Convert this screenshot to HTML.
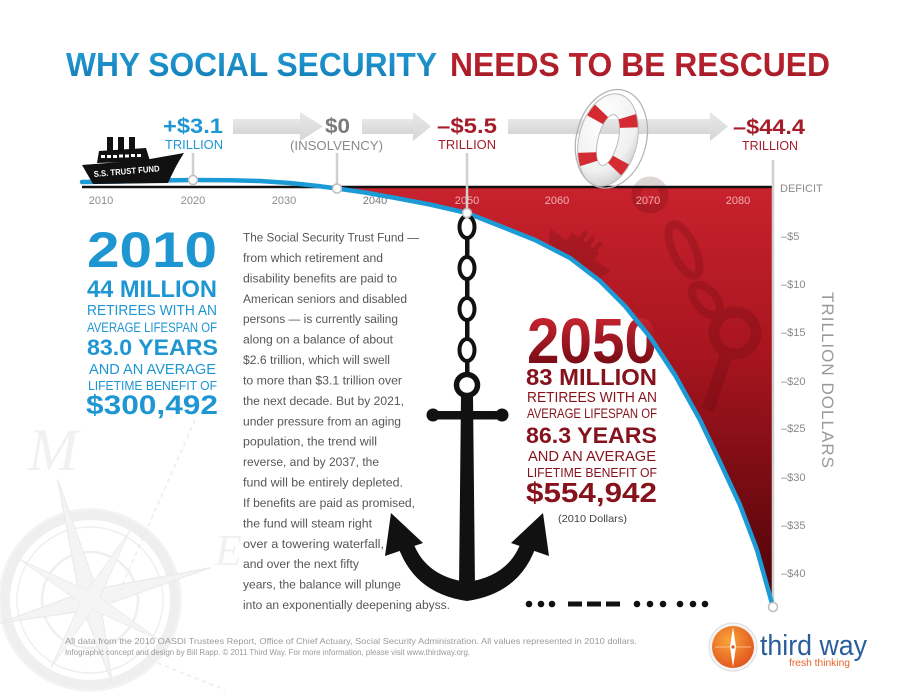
<!DOCTYPE html>
<html><head><meta charset="utf-8"><style>
html,body{margin:0;padding:0;background:#fff;width:900px;height:695px;overflow:hidden;}
svg{display:block;font-family:"Liberation Sans",sans-serif;overflow:hidden;}
</style></head><body>
<svg width="900" height="695" viewBox="0 0 900 695" xmlns="http://www.w3.org/2000/svg">
<defs>
 <linearGradient id="redfill" x1="0" y1="186" x2="0" y2="607" gradientUnits="userSpaceOnUse">
  <stop offset="0" stop-color="#c8222d"/><stop offset="0.4" stop-color="#a8151f"/><stop offset="1" stop-color="#4a0307"/>
 </linearGradient>
 <linearGradient id="arr" x1="0" y1="0" x2="0" y2="1"><stop offset="0" stop-color="#e8e8e8"/><stop offset="1" stop-color="#d6d6d6"/></linearGradient>
 <linearGradient id="t2050" x1="0" y1="318" x2="0" y2="363" gradientUnits="userSpaceOnUse"><stop offset="0" stop-color="#c4242f"/><stop offset="1" stop-color="#7a0d16"/></linearGradient>
 <linearGradient id="tblue" x1="0" y1="0" x2="0" y2="1"><stop offset="0" stop-color="#24a0da"/><stop offset="1" stop-color="#137bb5"/></linearGradient>
 <linearGradient id="tred" x1="0" y1="0" x2="0" y2="1"><stop offset="0" stop-color="#c22632"/><stop offset="1" stop-color="#a01a26"/></linearGradient>
 <radialGradient id="orange" cx="0.4" cy="0.35" r="0.7"><stop offset="0" stop-color="#f9a43a"/><stop offset="1" stop-color="#e1531c"/></radialGradient>
 <radialGradient id="ringg" cx="0.35" cy="0.3" r="0.8"><stop offset="0" stop-color="#ffffff"/><stop offset="0.7" stop-color="#f0f0f0"/><stop offset="1" stop-color="#c8c8c8"/></radialGradient>
</defs>

<!-- compass rose background -->
<g fill="none" stroke="#efefef">
 <circle cx="90" cy="600" r="85" stroke-width="10"/>
 <circle cx="90" cy="600" r="73" stroke-width="1.5"/>
 <circle cx="90" cy="600" r="48" stroke-width="2.5"/>
 <circle cx="90" cy="600" r="91" stroke-width="1.2"/>
 <polygon fill="#f4f4f4" stroke="#ebebeb" stroke-width="1.2" points="57.6,479.3 96.4,589 210.7,567.6 101,606.4 112,682.1 83.6,611 0,623 79,593.6"/>
 <polygon fill="#f5f5f5" stroke="#ececec" stroke-width="1" points="130,530.7 99.6,597.4 159.3,640 92.6,609.6 51,667.5 80.4,602.6 20.7,560 87.4,590.4"/>
</g>
<path d="M195,420 L120,590" stroke="#ebebeb" stroke-width="1.5" stroke-dasharray="4 4" fill="none"/>
<path d="M150,660 L225,690" stroke="#ebebeb" stroke-width="1.5" stroke-dasharray="4 4" fill="none"/>
<text x="28" y="470" font-family="Liberation Serif,serif" font-style="italic" font-size="60" fill="#f1f1f1">M</text>
<text x="215" y="565" font-family="Liberation Serif,serif" font-style="italic" font-size="44" fill="#f1f1f1">E</text>

<!-- title -->
<text x="66" y="76" font-size="33" font-weight="bold" fill="url(#tblue)" textLength="371" lengthAdjust="spacingAndGlyphs">WHY SOCIAL SECURITY</text>
<text x="450" y="76" font-size="33" font-weight="bold" fill="url(#tred)" textLength="380" lengthAdjust="spacingAndGlyphs">NEEDS TO BE RESCUED</text>

<!-- arrows -->
<g fill="url(#arr)">
 <rect x="233" y="119" width="68" height="15"/><polygon points="300,112 323,126.5 300,141"/>
 <rect x="362" y="119" width="52" height="15"/><polygon points="413,112 431,126.5 413,141"/>
 <rect x="508" y="119" width="203" height="15"/><polygon points="710,112 728,126.5 710,141"/>
</g>

<!-- red deficit area -->
<polygon fill="url(#redfill)" points="318,186 337,188.5 365,192.5 393,197.5 430,204.5 467,213 500,226 535,240 570,258 600,281 625,306 650,337 675,375 700,420 720,462 740,505 757,550 773,607 773,186"/>
<!-- faint decorations in red -->
<g fill="#3a0307" opacity="0.16">
 <g transform="translate(580,252) rotate(38)">
  <polygon points="-38,0 36,-4 30,10 -30,12"/>
  <rect x="-18" y="-11" width="34" height="11"/>
  <rect x="-10" y="-20" width="5" height="10"/><rect x="-1" y="-20" width="5" height="10"/><rect x="8" y="-20" width="5" height="10"/>
 </g>
</g>
<g fill="none" stroke="#3a0307" opacity="0.16">
 <circle cx="650" cy="195" r="14" stroke-width="9"/>
 <ellipse cx="684" cy="250" rx="11" ry="28" transform="rotate(-25 684 250)" stroke-width="8"/>
 <ellipse cx="706" cy="300" rx="10" ry="18" transform="rotate(-40 706 300)" stroke-width="8"/>
 <circle cx="735" cy="333" r="21" stroke-width="11"/>
 <path d="M726 356 L708 410" stroke-width="13"/>
</g>

<!-- axis line -->
<line x1="82" y1="187" x2="773" y2="187" stroke="#111" stroke-width="2.5"/>

<!-- year labels -->
<g font-size="11" text-anchor="middle">
 <text x="101" y="204" fill="#8c8c8c">2010</text>
 <text x="193" y="204" fill="#8c8c8c">2020</text>
 <text x="284" y="204" fill="#8c8c8c">2030</text>
 <text x="375" y="204" fill="#7c7c7c">2040</text>
 <text x="467" y="204" fill="#f0aeb2">2050</text>
 <text x="557" y="204" fill="#f0aeb2">2060</text>
 <text x="648" y="204" fill="#f0aeb2">2070</text>
 <text x="738" y="204" fill="#f0aeb2">2080</text>
</g>

<!-- marker lines -->
<g stroke="#d0d0d0" stroke-width="2.5">
 <line x1="193" y1="153" x2="193" y2="177"/>
 <line x1="337" y1="153" x2="337" y2="185"/>
 <line x1="467" y1="153" x2="467" y2="210"/>
 <line x1="773" y1="160" x2="773" y2="604"/>
</g>

<!-- blue curve -->
<polyline fill="none" stroke="#1c9ad6" stroke-width="4.5" stroke-linejoin="round" stroke-linecap="round" points="82,182 120,181.5 160,180.5 193,180 230,180.2 260,181 290,183 318,186 337,188.5 365,192.5 393,197.5 430,204.5 467,213 500,226 535,240 570,258 600,281 625,306 650,337 675,375 700,420 720,462 740,505 757,550 773,607"/>

<!-- right axis labels -->
<g font-size="11" fill="#8a8a8a">
 <text x="780" y="192">DEFICIT</text>
 <text x="781" y="240">–$5</text>
 <text x="781" y="288">–$10</text>
 <text x="781" y="336">–$15</text>
 <text x="781" y="385">–$20</text>
 <text x="781" y="432">–$25</text>
 <text x="781" y="481">–$30</text>
 <text x="781" y="529">–$35</text>
 <text x="781" y="577">–$40</text>
</g>
<text transform="translate(822,292) rotate(90)" x="0" y="0" font-size="17" fill="#9a9a9a" textLength="176" lengthAdjust="spacing">TRILLION DOLLARS</text>

<!-- ship -->
<g>
 <rect x="107" y="137" width="6" height="14" fill="#111"/>
 <rect x="118" y="137" width="6" height="14" fill="#111"/>
 <rect x="129" y="137" width="6" height="14" fill="#111"/>
 <polygon points="97,163 99,151 146,148 150,161" fill="#111"/>
 <g fill="#fff"><rect x="101" y="155" width="4" height="3"/><rect x="107" y="155" width="4" height="3"/><rect x="113" y="155" width="4" height="3"/><rect x="119" y="154.5" width="4" height="3"/><rect x="125" y="154.5" width="4" height="3"/><rect x="131" y="154" width="4" height="3"/><rect x="137" y="154" width="4" height="3"/></g>
 <path d="M82,165 L120,162 L150,159 L184,153 Q176,165 168,183 L93,184 Z" fill="#111"/>
 <text transform="translate(94,177) rotate(-5)" font-size="8.5" font-weight="bold" fill="#fff" textLength="66" lengthAdjust="spacingAndGlyphs">S.S. TRUST FUND</text>
</g>

<!-- markers -->
<g fill="#fff" stroke="#bdbdbd" stroke-width="1.5">
 <circle cx="193" cy="180" r="4.5"/>
 <circle cx="337" cy="188.5" r="4.5"/>
 <circle cx="773" cy="607" r="4.5"/>
</g>

<!-- life ring -->
<g transform="rotate(14 608 140)">
 <ellipse cx="611" cy="138" rx="35" ry="50" fill="none" stroke="#b0b0b0" stroke-width="1.2"/>
 <path fill-rule="evenodd" fill="url(#ringg)" stroke="#bbbbbb" stroke-width="1" d="M579,140 a29,47 0 1,0 58,0 a29,47 0 1,0 -58,0 Z M598,140 a10,26 0 1,0 20,0 a10,26 0 1,0 -20,0 Z"/>
 <ellipse cx="608" cy="140" rx="19.5" ry="36.5" fill="none" stroke="#d42a32" stroke-width="18" stroke-dasharray="11 34" stroke-dashoffset="28.5"/>
</g>

<!-- top labels -->
<text x="163" y="133" font-size="21" font-weight="bold" fill="#1e96d2" textLength="60" lengthAdjust="spacingAndGlyphs">+$3.1</text>
<text x="165" y="149" font-size="12.5" fill="#1e96d2" textLength="58" lengthAdjust="spacingAndGlyphs">TRILLION</text>
<text x="325" y="133" font-size="21" font-weight="bold" fill="#7a7a7a" textLength="25" lengthAdjust="spacingAndGlyphs">$0</text>
<text x="290" y="150" font-size="12.5" fill="#8a8a8a" textLength="93" lengthAdjust="spacingAndGlyphs">(INSOLVENCY)</text>
<text x="437" y="133" font-size="21" font-weight="bold" fill="#a51d2a" textLength="60" lengthAdjust="spacingAndGlyphs">–$5.5</text>
<text x="438" y="149" font-size="12.5" fill="#a51d2a" textLength="58" lengthAdjust="spacingAndGlyphs">TRILLION</text>
<text x="733" y="134" font-size="21" font-weight="bold" fill="#a51d2a" textLength="72" lengthAdjust="spacingAndGlyphs">–$44.4</text>
<text x="742" y="150" font-size="12.5" fill="#a51d2a" textLength="56" lengthAdjust="spacingAndGlyphs">TRILLION</text>

<!-- left 2010 block -->
<g fill="#1e96d2">
 <text x="87" y="267" font-size="50" font-weight="bold" textLength="130" lengthAdjust="spacingAndGlyphs">2010</text>
 <text x="87" y="297" font-size="24" font-weight="bold" textLength="130" lengthAdjust="spacingAndGlyphs">44 MILLION</text>
 <text x="87" y="315" font-size="14.5" textLength="130" lengthAdjust="spacingAndGlyphs">RETIREES WITH AN</text>
 <text x="87" y="332" font-size="13.5" textLength="130" lengthAdjust="spacingAndGlyphs">AVERAGE LIFESPAN OF</text>
 <text x="87" y="355" font-size="22.5" font-weight="bold" textLength="131" lengthAdjust="spacingAndGlyphs">83.0 YEARS</text>
 <text x="89" y="374" font-size="14.5" textLength="127" lengthAdjust="spacingAndGlyphs">AND AN AVERAGE</text>
 <text x="88" y="390" font-size="13" textLength="129" lengthAdjust="spacingAndGlyphs">LIFETIME BENEFIT OF</text>
 <text x="86" y="414" font-size="27" font-weight="bold" textLength="132" lengthAdjust="spacingAndGlyphs">$300,492</text>
</g>

<!-- body text -->
<g font-size="12.2" fill="#575757">
 <text x="243" y="241.5" textLength="176" lengthAdjust="spacingAndGlyphs">The Social Security Trust Fund —</text>
 <text x="243" y="261.9" textLength="140" lengthAdjust="spacingAndGlyphs">from which retirement and</text>
 <text x="243" y="282.3" textLength="154" lengthAdjust="spacingAndGlyphs">disability benefits are paid to</text>
 <text x="243" y="302.8" textLength="164" lengthAdjust="spacingAndGlyphs">American seniors and disabled</text>
 <text x="243" y="323.2" textLength="155" lengthAdjust="spacingAndGlyphs">persons — is currently sailing</text>
 <text x="243" y="343.6" textLength="150" lengthAdjust="spacingAndGlyphs">along on a balance of about</text>
 <text x="243" y="364.0" textLength="147" lengthAdjust="spacingAndGlyphs">$2.6 trillion, which will swell</text>
 <text x="243" y="384.4" textLength="159" lengthAdjust="spacingAndGlyphs">to more than $3.1 trillion over</text>
 <text x="243" y="404.9" textLength="161" lengthAdjust="spacingAndGlyphs">the next decade. But by 2021,</text>
 <text x="243" y="425.3" textLength="158" lengthAdjust="spacingAndGlyphs">under pressure from an aging</text>
 <text x="243" y="445.7" textLength="134" lengthAdjust="spacingAndGlyphs">population, the trend will</text>
 <text x="243" y="466.1" textLength="136" lengthAdjust="spacingAndGlyphs">reverse, and by 2037, the</text>
 <text x="243" y="486.5" textLength="160" lengthAdjust="spacingAndGlyphs">fund will be entirely depleted.</text>
 <text x="243" y="507.0" textLength="172" lengthAdjust="spacingAndGlyphs">If benefits are paid as promised,</text>
 <text x="243" y="527.4" textLength="129" lengthAdjust="spacingAndGlyphs">the fund will steam right</text>
 <text x="243" y="547.8" textLength="141" lengthAdjust="spacingAndGlyphs">over a towering waterfall,</text>
 <text x="243" y="568.2" textLength="116" lengthAdjust="spacingAndGlyphs">and over the next fifty</text>
 <text x="243" y="588.6" textLength="158" lengthAdjust="spacingAndGlyphs">years, the balance will plunge</text>
 <text x="243" y="609.0" textLength="207" lengthAdjust="spacingAndGlyphs">into an exponentially deepening abyss.</text>
</g>

<!-- 2050 block -->
<text x="527" y="363" font-size="64" font-weight="bold" fill="url(#t2050)" textLength="130" lengthAdjust="spacingAndGlyphs">2050</text>
<g fill="#86121c">
 <text x="526" y="385" font-size="23" font-weight="bold" textLength="131" lengthAdjust="spacingAndGlyphs">83 MILLION</text>
 <text x="527" y="402" font-size="14.5" textLength="130" lengthAdjust="spacingAndGlyphs">RETIREES WITH AN</text>
 <text x="527" y="418" font-size="13.5" textLength="130" lengthAdjust="spacingAndGlyphs">AVERAGE LIFESPAN OF</text>
 <text x="526" y="443" font-size="22.5" font-weight="bold" textLength="131" lengthAdjust="spacingAndGlyphs">86.3 YEARS</text>
 <text x="528" y="461" font-size="14.5" textLength="128" lengthAdjust="spacingAndGlyphs">AND AN AVERAGE</text>
 <text x="527" y="477" font-size="13" textLength="130" lengthAdjust="spacingAndGlyphs">LIFETIME BENEFIT OF</text>
 <text x="526" y="502" font-size="28" font-weight="bold" textLength="131" lengthAdjust="spacingAndGlyphs">$554,942</text>
</g>
<text x="558" y="522" font-size="10.5" fill="#444" textLength="69" lengthAdjust="spacingAndGlyphs">(2010 Dollars)</text>

<!-- redraw curve segment over 2050 text -->
<polyline fill="none" stroke="#1c9ad6" stroke-width="4.5" stroke-linejoin="round" points="625,306 650,337 675,375"/>

<!-- anchor -->
<g fill="#111">
 <g fill="none" stroke="#111" stroke-width="4">
  <ellipse cx="467" cy="227" rx="7.5" ry="11"/>
  <ellipse cx="467" cy="268" rx="7.5" ry="11"/>
  <ellipse cx="467" cy="309" rx="7.5" ry="11"/>
  <ellipse cx="467" cy="350" rx="7.5" ry="11"/>
  <circle cx="467" cy="385" r="10.5" stroke-width="5.5"/>
 </g>
 <rect x="465" y="236" width="4.5" height="22"/>
 <rect x="465" y="277" width="4.5" height="22"/>
 <rect x="465" y="318" width="4.5" height="22"/>
 <rect x="465" y="359" width="4.5" height="18"/>
 <rect x="434" y="411" width="67" height="8.5"/>
 <circle cx="433" cy="415" r="6.5"/>
 <circle cx="502" cy="415" r="6.5"/>
 <polygon points="461,395 473,395 475,588 459,588"/>
 <path d="M396,540 Q411,593 467,601 Q523,593 538,540 L523,536 Q512,576 467,582 Q422,576 411,536 Z"/>
 <polygon points="391,513 423,543 385,556"/>
 <polygon points="543,513 511,543 549,556"/>
</g>
<circle cx="467" cy="213" r="4.5" fill="#fff" stroke="#bdbdbd" stroke-width="1.5"/>

<!-- morse dots -->
<g fill="#111">
 <circle cx="529" cy="604" r="3.3"/><circle cx="541" cy="604" r="3.3"/><circle cx="552" cy="604" r="3.3"/>
 <rect x="568" y="601.5" width="14" height="5"/><rect x="587" y="601.5" width="14" height="5"/><rect x="606" y="601.5" width="14" height="5"/>
 <circle cx="637" cy="604" r="3.3"/><circle cx="650" cy="604" r="3.3"/><circle cx="663" cy="604" r="3.3"/>
 <circle cx="680" cy="604" r="3.3"/><circle cx="693" cy="604" r="3.3"/><circle cx="705" cy="604" r="3.3"/>
</g>

<!-- footer -->
<text x="65" y="644" font-size="8.5" fill="#9a9a9a" textLength="572" lengthAdjust="spacingAndGlyphs">All data from the 2010 OASDI Trustees Report, Office of Chief Actuary, Social Security Administration. All values represented in 2010 dollars.</text>
<text x="65" y="655" font-size="8.5" fill="#9a9a9a" textLength="405" lengthAdjust="spacingAndGlyphs">Infographic concept and design by Bill Rapp. © 2011 Third Way. For more information, please visit www.thirdway.org.</text>

<!-- logo -->
<circle cx="733" cy="647" r="24" fill="#f4f4f4" stroke="#dddddd" stroke-width="1"/>
<circle cx="733" cy="647" r="21" fill="url(#orange)"/>
<line x1="715" y1="647" x2="751" y2="647" stroke="#fbd0a8" stroke-width="0.8"/>
<polygon points="733,627 736,647 733,667 730,647" fill="#fff"/>
<circle cx="733" cy="647" r="2" fill="#e1531c" stroke="#fff" stroke-width="0.8"/>
<text x="760" y="655" font-size="29" fill="#2b5d9c" textLength="107" lengthAdjust="spacingAndGlyphs">third way</text>
<text x="789" y="666" font-size="10.5" fill="#e8632a" textLength="61" lengthAdjust="spacingAndGlyphs">fresh thinking</text>
</svg>
</body></html>
